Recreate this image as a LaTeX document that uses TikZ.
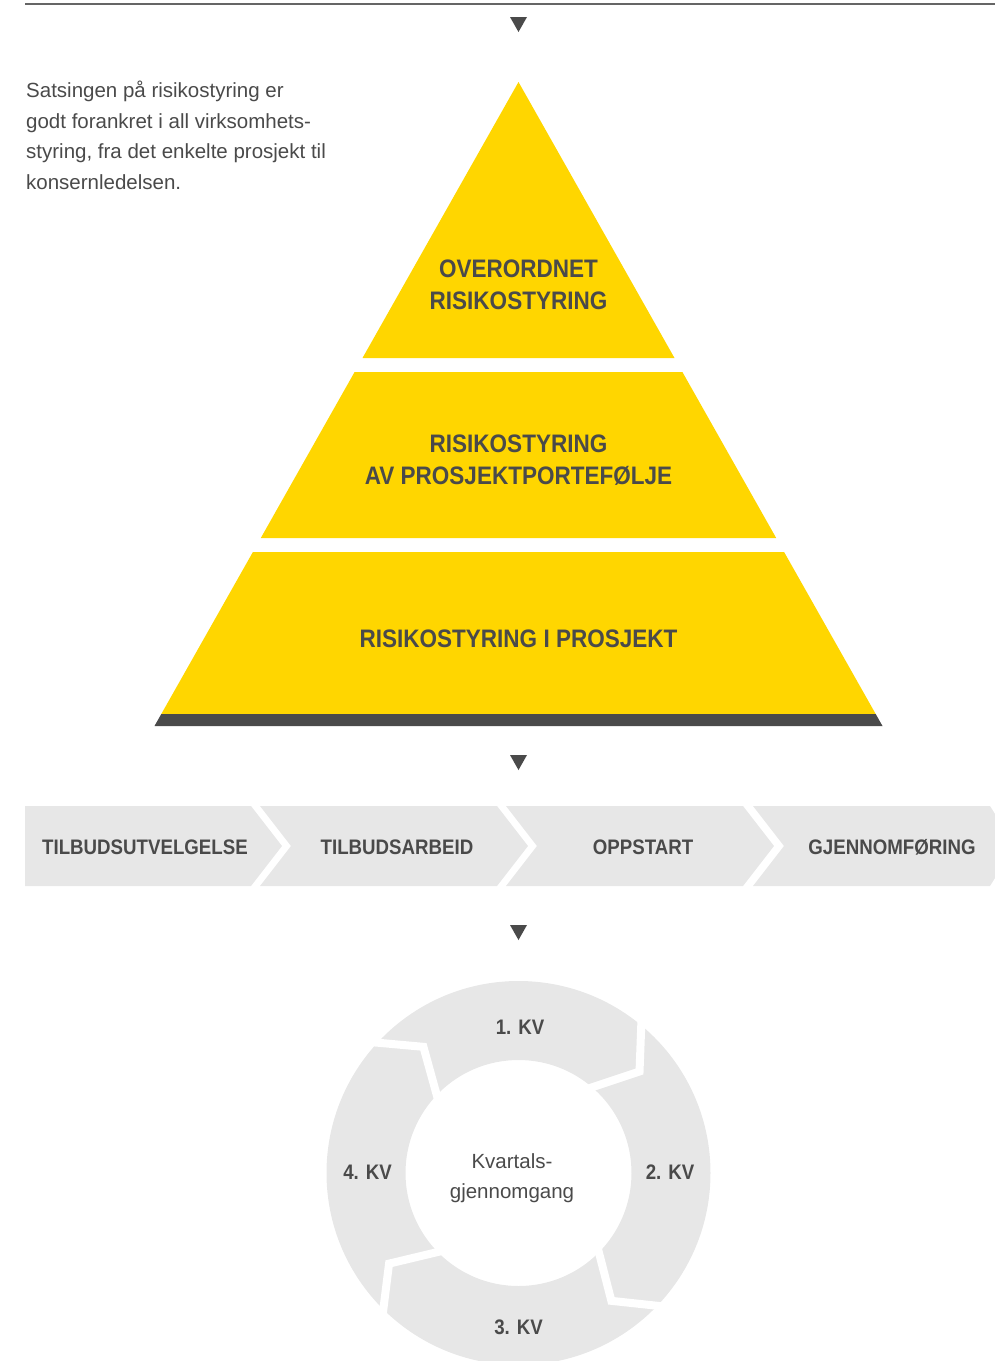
\documentclass[tikz,border=0pt]{standalone}
\usepackage{fontspec}
\setmainfont{Liberation Sans}
\newfontfamily\capsfont[FakeStretch=0.89]{Liberation Sans}
\usetikzlibrary{positioning}
\usetikzlibrary{calc}
\definecolor{yellow}{RGB}{255,214,0}
\definecolor{dark}{RGB}{74,74,74}
\definecolor{light}{RGB}{231,231,231}

\begin{document}
\begin{tikzpicture}[x=1pt,y=-1pt,
        pyrtext/.style={text=dark, align=center, inner sep=0, font=\capsfont\bfseries\fontsize{25.3}{32}\selectfont},
        steptext/.style={text=dark, inner sep=0, font=\capsfont\bfseries\fontsize{21}{25}\selectfont},
        bodytext/.style={text=dark, inner sep=0, font=\fontsize{20.5}{30.5}\selectfont}]
        \useasboundingbox (0,0) rectangle (995,1361);

        % top line and markers %
        \draw[dark!85, line width=1.2] (25,4) -- (995,4);
        \foreach \y in {17,755,925}
                \fill[dark] (510,\y) -- (527,\y) -- (518.5,\y+15) -- cycle;

        % pyramid %
        \fill[yellow] (518.5,82) -- (674.5,358) -- (362.5,358) -- cycle;
        \fill[yellow] (354.6,372) -- (682.4,372) -- (776.2,538) -- (260.8,538) -- cycle;
        \fill[yellow] (252.9,552) -- (784.1,552) -- (875.7,714) -- (161.3,714) -- cycle;
        \fill[dark] (161.3,714) -- (875.7,714) -- (882.5,726) -- (154.5,726) -- cycle;

        % phases %
        \fill[light] (25,806) -- (251,806) -- (282,846) -- (251,886) -- (25,886) -- cycle;
        \foreach \x in {260,506}
                \fill[light] (\x,806) -- (\x+237,806) -- (\x+268,846) -- (\x+237,886) -- (\x,886) -- (\x+31,846) -- cycle;
        \fill[light] (753,806) -- (990,806) -- (995,814) -- (995,878) -- (990,886) -- (753,886) -- (784,846) -- cycle;

        % quarter ring %
        \coordinate (ring) at (518.5,1173);
        \fill[light, even odd rule] (ring) circle[radius=192pt] (ring) circle[radius=113pt];
        \foreach \a [evaluate=\a as \b using \a-12] in {52,-42,-133,139}
                \draw[white, line width=8pt, line join=miter] ($(ring)+(\a:200pt)$) -- ($(ring)+(\b:158pt)$) -- ($(ring)+(\a:105pt)$);

        % nodes %
        \node[bodytext, align=left, anchor=north west] (intro) at (26,81) {Satsingen på risikostyring er\\godt forankret i all virksomhets-\\styring, fra det enkelte prosjekt til\\konsernledelsen.};
        \node[pyrtext] (overordnet) at (518.5,285) {OVERORDNET\\RISIKOSTYRING};
        \node[pyrtext] (portefolje) at (518.5,460) {RISIKOSTYRING\\AV PROSJEKTPORTEFØLJE};
        \node[pyrtext] (prosjekt) at (518.5,639) {RISIKOSTYRING I PROSJEKT};

        \node[steptext] (utvelgelse) at (145,847) {TILBUDSUTVELGELSE};
        \node[steptext] (arbeid) at (397,847) {TILBUDSARBEID};
        \node[steptext] (oppstart) at (643,847) {OPPSTART};
        \node[steptext] (gjennomforing) at (892,847) {GJENNOMFØRING};

        \node[steptext] (kv1) at (520,1027.5) {1. KV};
        \node[steptext] (kv2) at (670,1172.5) {2. KV};
        \node[steptext] (kv3) at (518.5,1327.5) {3. KV};
        \node[steptext] (kv4) at (367.5,1172.5) {4. KV};
        \node[bodytext, align=center] (kvartal) at (512,1178) {Kvartals-\\gjennomgang};
\end{tikzpicture}
\end{document}
